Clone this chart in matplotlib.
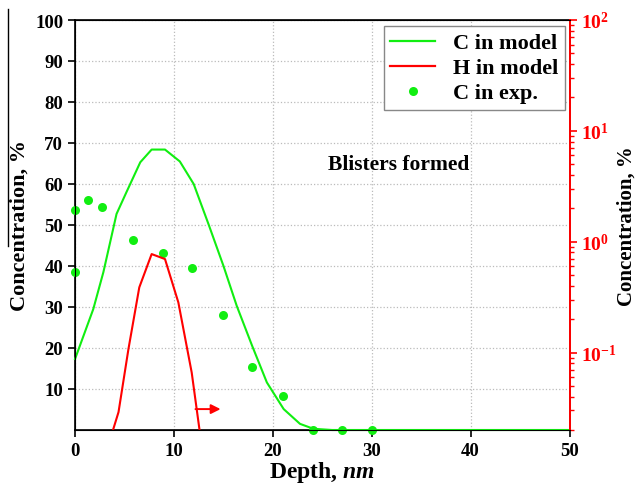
import matplotlib
matplotlib.use("Agg")
import matplotlib.pyplot as plt
from matplotlib.lines import Line2D

# ---- data ----
c_model_x = [0.0, 1.85, 2.87, 4.2, 5.2, 6.6, 7.75, 9.1, 10.6, 12.0, 13.5, 15.0,
             16.35, 17.9, 19.4, 21.1, 22.75, 24.1, 26.0, 50.0]
c_model_y = [17.3, 29.5, 38.5, 52.7, 58.0, 65.3, 68.4, 68.4, 65.5, 60.0, 50.2, 40.1,
             30.3, 20.6, 11.6, 5.1, 1.5, 0.3, 0.0, 0.0]

h_model_x = [3.6, 4.4, 5.4, 6.5, 7.75, 9.1, 10.45, 11.8, 12.7]
h_model_y = [0.017, 0.029, 0.107, 0.387, 0.773, 0.697, 0.283, 0.066, 0.017]

c_exp_x = [0.0, 0.0, 1.35, 2.77, 5.83, 8.93, 11.83, 14.93, 17.93, 21.06, 24.1, 27.0, 30.0]
c_exp_y = [38.6, 53.7, 56.2, 54.3, 46.3, 43.1, 39.6, 28.1, 15.4, 8.4, 0.0, 0.0, 0.0]

x_ticks = [0, 10, 20, 30, 40, 50]
y_ticks = [10, 20, 30, 40, 50, 60, 70, 80, 90, 100]

GREEN = "#11ee11"
RED = "#ff0000"

plt.rcParams['font.family'] = ['Liberation Serif', 'DejaVu Serif']
plt.rcParams['font.weight'] = 'bold'
plt.rcParams['mathtext.fontset'] = 'custom'
plt.rcParams['mathtext.rm'] = 'Liberation Serif:bold'
plt.rcParams['mathtext.it'] = 'Liberation Serif:bold:italic'
plt.rcParams['mathtext.bf'] = 'Liberation Serif:bold'

fig = plt.figure(figsize=(6.36, 4.85), dpi=100)
fig.subplots_adjust(left=75/636, right=569.5/636, top=1-21/485, bottom=1-431/485)
ax = fig.add_subplot(111)
ax2 = ax.twinx()

# left axis: C
ax.plot(c_model_x, c_model_y, color=GREEN, lw=1.5, zorder=3, clip_on=False)
ax.plot(c_exp_x, c_exp_y, 'o', color=GREEN, ms=6.5, mec='none', zorder=4, clip_on=False)
ax.set_xlim(0, 50)
ax.set_ylim(0, 100)
ax.set_xticks(x_ticks)
ax.set_yticks(y_ticks)
ax.tick_params(axis='both', direction='out', length=5, width=1.2, labelsize=13.5)
ax.grid(True, ls=':', color='#bbbbbb', lw=0.9)
ax.set_axisbelow(True)
ax.set_xlabel(r'Depth, $\it{nm}$', fontsize=17, fontweight='bold', labelpad=0)
ax.set_ylabel('Concentration, %', fontsize=16, fontweight='bold', labelpad=4)
for s in ax.spines.values():
    s.set_linewidth(1.2)

ax.annotate('', xy=(15.0, 5.1), xytext=(11.9, 5.1),
            arrowprops=dict(arrowstyle='-|>', color=RED, lw=1.4, mutation_scale=14))
ax.text(32.7, 64.9, 'Blisters formed', fontsize=15.5, fontweight='bold',
        ha='center', va='center')

# right axis: H (log)
ax2.plot(h_model_x, h_model_y, color=RED, lw=1.5)
ax2.set_yscale('log')
ax2.set_ylim(0.02, 100)
ax2.spines['right'].set_color(RED)
ax2.spines['right'].set_linewidth(1.4)
ax2.tick_params(axis='y', which='major', colors=RED, direction='out', length=5,
                width=1.2, labelsize=14)
ax2.tick_params(axis='y', which='minor', colors=RED, direction='out', length=3, width=1.0)
for lab in ax2.get_yticklabels():
    lab.set_fontweight('bold')
ax2.set_ylabel('Concentration, %', fontsize=15, fontweight='bold', labelpad=0)

handles = [Line2D([], [], color=GREEN, lw=1.6),
           Line2D([], [], color=RED, lw=1.6),
           Line2D([], [], marker='o', ls='none', color=GREEN, ms=6.5, mec='none')]
leg = ax2.legend(handles, ['C in model', 'H in model', 'C in exp.'],
                 loc='upper right', bbox_to_anchor=(0.99, 0.985), borderaxespad=0.0,
                 fancybox=False,
                 edgecolor='#888888', framealpha=1, prop={'size': 16, 'weight': 'bold'},
                 handlelength=2.0, borderpad=0.3, labelspacing=0.2, handletextpad=0.8)
leg.get_frame().set_linewidth(1.0)

# cropping artifact line at top-left of the original figure
fig.add_artist(Line2D([8/636, 8/636], [1-10/485, 1-247/485], color='black', lw=1.0))

fig.savefig('out.png', dpi=100)
